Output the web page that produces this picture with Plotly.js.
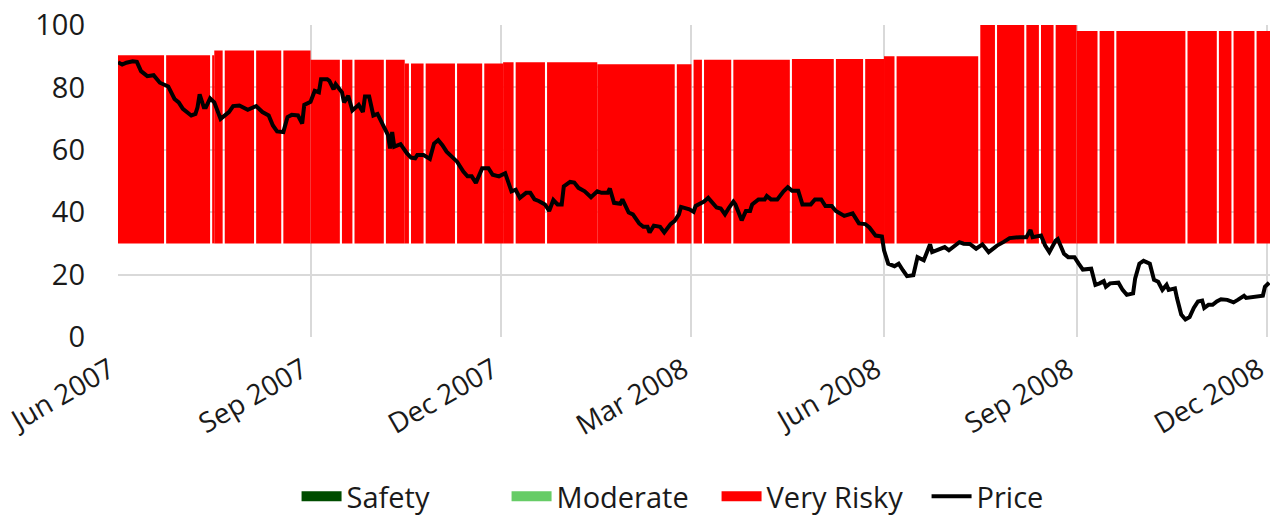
<!DOCTYPE html>
<html>
<head>
<meta charset="utf-8">
<script src="https://cdn.plot.ly/plotly-3.0.1.min.js"></script>
<style>
html,body{margin:0;padding:0;background:#fff;}
#chart{width:1270px;height:522px;}
</style>
</head>
<body>
<div id="chart"></div>
<script>
// ---- Risk periods (Very Risky band drawn from 30 up to the top value) ----
const riskStart = ["2007-06-01","2007-06-24","2007-07-16","2007-07-17","2007-07-22","2007-08-06","2007-08-19",
  "2007-09-01","2007-09-16","2007-09-22","2007-10-07","2007-10-16","2007-10-19","2007-10-26","2007-11-10","2007-11-23",
  "2007-12-02","2007-12-08","2007-12-23","2008-01-16","2008-02-23","2008-03-02","2008-03-07","2008-03-21","2008-04-18",
  "2008-05-09","2008-05-23","2008-06-01","2008-06-07","2008-07-17","2008-07-25","2008-08-08","2008-08-15","2008-08-22",
  "2008-09-01","2008-09-12","2008-09-20","2008-10-24","2008-11-08","2008-11-15","2008-11-26"];
const riskEnd = ["2007-06-23","2007-07-15","2007-07-17","2007-07-21","2007-08-05","2007-08-18","2007-09-01",
  "2007-09-15","2007-09-21","2007-10-06","2007-10-16","2007-10-18","2007-10-25","2007-11-09","2007-11-22","2007-12-02",
  "2007-12-07","2007-12-22","2008-01-16","2008-02-22","2008-03-01","2008-03-06","2008-03-20","2008-04-17","2008-05-08",
  "2008-05-22","2008-06-01","2008-06-06","2008-07-16","2008-07-24","2008-08-07","2008-08-14","2008-08-21","2008-09-01",
  "2008-09-11","2008-09-19","2008-10-23","2008-11-07","2008-11-14","2008-11-25","2008-12-03"];
const riskTop = [90.3,90.3,90.3,91.8,91.8,91.8,91.8,
  88.9,88.9,88.9,88.9,87.7,87.7,87.7,87.7,87.7,
  88.1,88.1,88.1,87.4,87.4,88.9,88.9,88.9,89.1,
  89.1,89.1,90.0,90.0,100,100,100,100,100,
  98.1,98.1,98.1,98.1,98.1,98.1,98.1];
const riskBase = 30;

// ---- Price ----
const priceDates = ["2007-06-01","2007-06-03","2007-06-05","2007-06-08","2007-06-10","2007-06-12","2007-06-15","2007-06-18",
  "2007-06-21","2007-06-25","2007-06-28","2007-06-30","2007-07-02","2007-07-06","2007-07-08","2007-07-09","2007-07-10",
  "2007-07-12","2007-07-13","2007-07-15","2007-07-17","2007-07-19","2007-07-20","2007-07-24","2007-07-26","2007-07-29",
  "2007-08-02","2007-08-06","2007-08-09","2007-08-12","2007-08-14","2007-08-16","2007-08-19","2007-08-21","2007-08-23",
  "2007-08-26","2007-08-28","2007-08-29","2007-09-01","2007-09-03","2007-09-05","2007-09-06","2007-09-09","2007-09-10",
  "2007-09-12","2007-09-13","2007-09-16","2007-09-17","2007-09-19","2007-09-21","2007-09-24","2007-09-26","2007-09-27",
  "2007-09-29","2007-10-01","2007-10-03","2007-10-06","2007-10-08","2007-10-09","2007-10-10","2007-10-11","2007-10-14",
  "2007-10-17","2007-10-19","2007-10-21","2007-10-22","2007-10-25","2007-10-28","2007-10-30","2007-11-01","2007-11-03",
  "2007-11-05","2007-11-10","2007-11-13","2007-11-15","2007-11-17","2007-11-19","2007-11-22","2007-11-25","2007-11-27",
  "2007-11-30","2007-12-03","2007-12-06","2007-12-08","2007-12-10","2007-12-13","2007-12-15","2007-12-17","2007-12-19",
  "2007-12-22","2007-12-24","2007-12-26","2007-12-28","2007-12-30","2007-12-31","2008-01-01","2008-01-03","2008-01-05",
  "2008-01-07","2008-01-10","2008-01-13","2008-01-16","2008-01-18","2008-01-21","2008-01-22","2008-01-24","2008-01-27",
  "2008-01-28","2008-01-31","2008-02-02","2008-02-05","2008-02-07","2008-02-09","2008-02-10","2008-02-12","2008-02-15",
  "2008-02-17","2008-02-20","2008-02-22","2008-02-24","2008-02-25","2008-02-29","2008-03-02","2008-03-03","2008-03-07",
  "2008-03-09","2008-03-11","2008-03-13","2008-03-15","2008-03-17","2008-03-19","2008-03-21","2008-03-22","2008-03-25",
  "2008-03-27","2008-03-29","2008-03-30","2008-04-02","2008-04-05","2008-04-06","2008-04-08","2008-04-11","2008-04-14",
  "2008-04-16","2008-04-18","2008-04-21","2008-04-23","2008-04-27","2008-04-29","2008-05-02","2008-05-04","2008-05-07",
  "2008-05-09","2008-05-13","2008-05-17","2008-05-20","2008-05-23","2008-05-25","2008-05-28","2008-05-31","2008-06-01",
  "2008-06-03","2008-06-06","2008-06-08","2008-06-10","2008-06-12","2008-06-15","2008-06-17","2008-06-20","2008-06-23",
  "2008-06-24","2008-06-28","2008-06-30","2008-07-02","2008-07-04","2008-07-07","2008-07-09","2008-07-12","2008-07-15",
  "2008-07-18","2008-07-21","2008-07-25","2008-07-28","2008-07-31","2008-08-05","2008-08-08","2008-08-10","2008-08-11",
  "2008-08-15","2008-08-17","2008-08-19","2008-08-22","2008-08-23","2008-08-26","2008-08-28","2008-08-31","2008-09-02",
  "2008-09-04","2008-09-08","2008-09-09","2008-09-10","2008-09-12","2008-09-14","2008-09-15","2008-09-17","2008-09-21",
  "2008-09-23","2008-09-25","2008-09-28","2008-09-29","2008-10-01","2008-10-03","2008-10-06","2008-10-08","2008-10-10",
  "2008-10-12","2008-10-14","2008-10-15","2008-10-18","2008-10-19","2008-10-21","2008-10-23","2008-10-25","2008-10-27",
  "2008-10-29","2008-10-31","2008-11-01","2008-11-03","2008-11-05","2008-11-07","2008-11-09","2008-11-12","2008-11-15",
  "2008-11-17","2008-11-20","2008-11-21","2008-11-25","2008-11-29","2008-11-30","2008-12-02"];
const priceValues = [88.1,87.3,87.9,88.4,88.2,85.2,83.6,83.9,
  81.5,80.3,76.3,75.2,73.1,71.0,71.5,73.6,77.8,
  73.6,73.6,76.5,75.2,71.0,69.9,72.1,74.0,74.2,
  72.8,74.0,72.1,71.0,67.8,65.9,65.7,70.5,71.2,
  71.0,68.4,74.4,75.4,78.9,78.4,82.6,82.6,82.1,
  79.4,81.0,78.4,75.2,77.3,72.6,74.4,72.1,77.1,
  77.1,71.0,71.5,67.8,64.7,60.4,65.7,61.0,61.8,
  58.9,57.5,57.3,58.3,58.3,57.1,62.0,63.1,61.5,
  59.4,56.2,53.0,51.5,51.5,49.4,54.1,54.1,52.0,
  51.5,52.5,46.7,47.2,44.6,46.2,46.2,44.1,43.6,
  42.5,40.4,43.9,42.5,42.5,48.3,48.8,49.7,49.5,
  47.8,46.7,44.8,46.7,46.2,46.2,47.6,43.0,42.7,
  44.1,39.9,39.3,36.4,35.3,35.3,33.5,35.7,35.3,
  33.5,36.2,37.2,39.3,41.7,40.9,40.1,42.0,43.4,
  44.6,43.0,41.5,41.2,39.3,41.5,43.4,42.5,37.4,
  40.4,40.4,42.5,44.1,44.1,45.2,44.1,44.1,46.7,
  48.0,46.9,46.9,42.5,42.5,44.1,44.1,42.0,42.0,
  40.4,38.8,39.6,36.4,36.2,35.1,32.5,32.2,27.8,
  23.5,22.7,23.5,21.4,19.5,19.8,25.6,24.6,29.7,
  27.2,28.3,28.8,27.8,29.0,30.4,29.9,29.8,28.3,
  29.7,27.2,29.3,30.4,31.7,32.0,32.0,34.3,32.0,
  32.5,29.3,27.2,30.9,31.4,26.7,25.6,25.6,23.5,
  21.6,21.9,19.5,16.7,17.2,17.9,16.1,17.2,17.4,
  15.1,13.5,14.0,18.8,23.5,24.4,23.5,18.3,17.7,
  15.1,16.7,15.1,15.6,12.4,7.2,5.6,6.4,9.3,
  11.4,11.7,9.3,10.3,10.3,11.4,12.1,11.9,11.1,
  11.9,13.2,12.5,12.8,13.2,16.1,17.4];

const yTicks = [0,20,40,60,80,100];
const xTickVals = ["2007-06-01","2007-09-01","2007-12-01","2008-03-01","2008-06-01","2008-09-01","2008-12-01"];
const xTickText = ["Jun 2007","Sep 2007","Dec 2007","Mar 2008","Jun 2008","Sep 2008","Dec 2008"];

const legendNames = ["Safety","Moderate","Very Risky"];
const legendColors = ["#004d00","#66cc66","#ff0000"];

// ---- build bar geometry from the period arrays ----
const t = s => new Date(s + "T00:00:00Z").getTime();
const iso = ms => new Date(ms).toISOString().slice(0,19).replace("T"," ");
const barX = riskStart.map((s,i) => iso((t(s) + t(riskEnd[i])) / 2));
const barW = riskStart.map((s,i) => t(riskEnd[i]) - t(s));
const barH = riskTop.map(v => v - riskBase);

const FONT = "Open Sans, Noto Sans, sans-serif";
const TXT = "#1a1a1a";

const traces = [
  // legend-only swatches (no data drawn in the plot)
  {type:"scatter", mode:"lines", name:legendNames[0], x:[null], y:[null],
   line:{color:legendColors[0], width:20}, legendrank:1},
  {type:"scatter", mode:"lines", name:legendNames[1], x:[null], y:[null],
   line:{color:legendColors[1], width:20}, legendrank:2},
  {type:"scatter", mode:"lines", name:legendNames[2], x:[null], y:[null],
   line:{color:legendColors[2], width:20}, legendrank:3, legendgroup:"vr"},
  {type:"bar", name:"Very Risky", x:barX, y:barH, base:riskBase, width:barW,
   marker:{color:legendColors[2], line:{width:0}}, hoverinfo:"skip", showlegend:false, legendgroup:"vr"},
  {type:"scatter", mode:"lines", name:"Price", x:priceDates, y:priceValues,
   line:{color:"#000000", width:4}, legendrank:4}
];

const layout = {
  width:1270, height:522,
  margin:{l:118, r:0, t:25, b:181},
  paper_bgcolor:"#ffffff", plot_bgcolor:"#ffffff",
  font:{family:FONT, size:29, color:TXT},
  barmode:"overlay",
  showlegend:true,
  legend:{orientation:"h", x:0.155, xanchor:"left", y:-0.513, yanchor:"middle",
          font:{family:FONT, size:29, color:TXT}, traceorder:"normal", itemwidth:40,
          entrywidth:155, entrywidthmode:"pixels"},
  xaxis:{type:"date", range:["2007-06-01","2008-12-02 10:00"],
         tickvals:xTickVals, ticktext:xTickText, tickangle:-30,
         showgrid:true, gridcolor:"#d9d9d9", gridwidth:2, zeroline:false,
         showline:false, ticks:"", ticklabelstandoff:10, ticklabelshift:-8, ticklabeloverflow:"allow",
         tickfont:{family:FONT, size:28, color:TXT}},
  yaxis:{range:[0,100], tickvals:yTicks, showgrid:true, gridcolor:"#d9d9d9", gridwidth:2,
         zeroline:false, showline:false, ticks:"", ticklabelstandoff:32,
         tickfont:{family:FONT, size:29, color:TXT}}
};

Plotly.newPlot("chart", traces, layout, {staticPlot:true, displayModeBar:false});
</script>
</body>
</html>
